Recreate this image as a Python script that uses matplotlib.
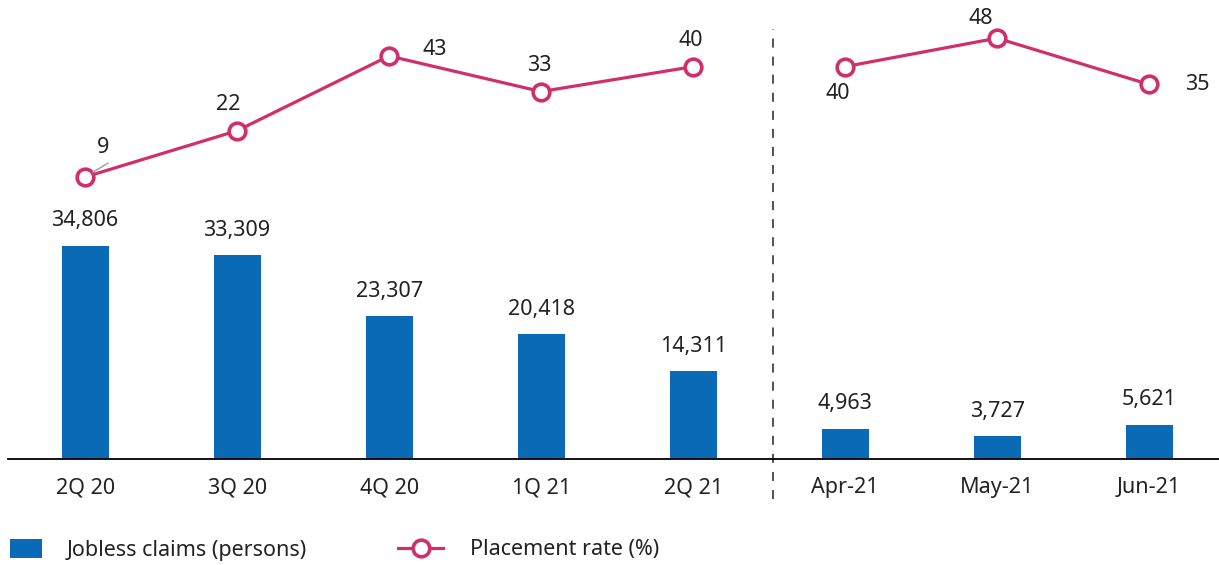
import numpy as np
import matplotlib.pyplot as plt
from matplotlib.lines import Line2D
from matplotlib.patches import Patch

plt.rcParams['font.family'] = ['Noto Sans', 'DejaVu Sans']
plt.rcParams['font.weight'] = 'light'

periods = ["2Q 20", "3Q 20", "4Q 20", "1Q 21", "2Q 21", "Apr-21", "May-21", "Jun-21"]
claims = [34806, 33309, 23307, 20418, 14311, 4963, 3727, 5621]
placement = [9, 22, 43, 33, 40, 40, 48, 35]

bar_color = "#0A6AB5"
line_color = "#D12E6C"
text_color = "#222222"
fs = 15.5

fig = plt.figure(figsize=(12.19, 5.65), dpi=100)
ax = fig.add_axes([8/1219, (565-459)/565, 1 - 8/1219, 439/565])
ax2 = ax.twinx()

x = np.arange(len(periods))
ax.bar(x, claims, width=0.31, color=bar_color, zorder=2)
for xi, v in zip(x, claims):
    ax.annotate(f"{v:,}", (xi, v), xytext=(0, 18), textcoords="offset points",
                ha="center", va="center", fontsize=fs, color=text_color)

ax.set_xlim(-0.507, 7.46)
ax.set_ylim(0, 71730)
ax.set_xticks(x)
ax.set_xticklabels(periods, fontsize=fs, color=text_color)
ax.tick_params(axis="x", length=0, pad=13)
ax.set_yticks([])
for s in ["top", "right", "left"]:
    ax.spines[s].set_visible(False)
ax.spines["bottom"].set_linewidth(1.3)

# quarters and months drawn as separate line pieces
style = dict(color=line_color, lw=2.3, marker="o", ms=12, mfc="white",
             mec=line_color, mew=2.6, zorder=3)
ax2.plot(x[:5], placement[:5], **style)
ax2.plot(x[5:], placement[5:], **style)
ax2.set_ylim(-70.2, 53.1)
ax2.axis("off")

offsets = [(13, 21.5), (-6, 19), (33, 5), (-1, 19), (-2, 18.5), (-5, -19.5), (-12, 14.5), (34.5, 0)]
for xi, v, (dx, dy) in zip(x, placement, offsets):
    ax2.annotate(str(v), (xi, v), xytext=(dx, dy), textcoords="offset points",
                 ha="center", va="center", fontsize=fs, color=text_color)
# small leader line for the first label
ax2.annotate("", (0.053, 10.4), xytext=(0.151, 12.9),
             arrowprops=dict(arrowstyle="-", color="#aaaaaa", lw=1.2,
                             shrinkA=0, shrinkB=0))

ax.axvline(4.526, ymin=-0.09, ymax=0.98, color="#444444", lw=1.3,
           ls=(0, (5, 5)), clip_on=False)

leg1 = fig.legend([Patch(facecolor=bar_color, edgecolor="none")],
                  ["Jobless claims (persons)"],
                  loc="center left", bbox_to_anchor=(10/1219, 15/565), frameon=False,
                  fontsize=fs, handlelength=1.49, handleheight=1.02,
                  handletextpad=1.16, borderpad=0, borderaxespad=0,
                  labelcolor=text_color)
leg2 = fig.legend([Line2D([0], [0], color=line_color, lw=2.3, marker="o", ms=12,
                          mfc="white", mec=line_color, mew=2.6)],
                  ["Placement rate (%)"],
                  loc="center left", bbox_to_anchor=(398/1219, 15/565), frameon=False,
                  fontsize=fs, handlelength=2.1, handletextpad=1.26,
                  borderpad=0, borderaxespad=0, labelcolor=text_color)

fig.savefig("out.png", dpi=100)
